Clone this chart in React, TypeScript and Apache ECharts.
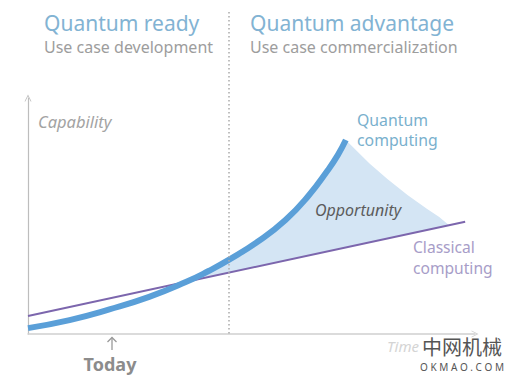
import React, { useEffect, useRef } from "react";
import * as echarts from "echarts";

// Quantum computing capability curve (x: time 0..100, y: capability 0..100)
const quantumX = [0, 9.3, 18.2, 27.1, 35.3, 40.4, 44.9, 51.6, 57.6, 62.7, 67.1, 69.3, 71.1];
const quantumY = [2.5, 5.9, 10.4, 15.7, 22.0, 26.7, 31.4, 39.4, 48.3, 58.5, 69.5, 75.8, 82.2];
// Classical computing (straight line)
const classicalX = [0, 97.8];
const classicalY = [7.6, 47.6];
// Right edge of the opportunity area (from the quantum peak down to the classical line)
const edgeX = [71.1, 73.8, 76.4, 80.4, 84.9, 89.3, 92.0, 94.2];
const edgeY = [82.2, 77.1, 72.2, 65.7, 58.9, 53.0, 49.6, 46.1];
// Where the quantum curve crosses the classical line
const crossingX = 35.3;
const crossingY = 22.0;

const FONT = "'Noto Sans', 'Open Sans', sans-serif";

export default function App() {
  const ref = useRef<HTMLDivElement>(null);
  useEffect(() => {
    if (!ref.current) return;
    const chart = echarts.init(ref.current, null, { renderer: "svg" });

    const quantumData = quantumX.map((x, i) => [x, quantumY[i]]);
    const classicalData = classicalX.map((x, i) => [x, classicalY[i]]);
    const polygon: number[][] = [[crossingX, crossingY]];
    quantumX.forEach((x, i) => {
      if (x > crossingX) polygon.push([x, quantumY[i]]);
    });
    edgeX.forEach((x, i) => {
      if (i > 0) polygon.push([x, edgeY[i]]);
    });

    const arrowPath = "path://M0,10 L5,0 L10,10 L8.8,10 L5,2.6 L1.2,10 Z";

    chart.setOption({
      animation: false,
      backgroundColor: "#ffffff",
      grid: { left: 28, right: 49, top: 98, bottom: 45 },
      xAxis: {
        type: "value",
        min: 0,
        max: 100,
        axisLine: {
          show: true,
          lineStyle: { color: "#cfcfcf", width: 1.5 },
          symbol: ["none", arrowPath],
          symbolSize: [9, 7],
        },
        axisTick: { show: false },
        axisLabel: { show: false },
        splitLine: { show: false },
      },
      yAxis: {
        type: "value",
        min: 0,
        max: 100,
        axisLine: {
          show: true,
          lineStyle: { color: "#bdbdbd", width: 1.2 },
          symbol: ["none", arrowPath],
          symbolSize: [9, 7],
        },
        axisTick: { show: false },
        axisLabel: { show: false },
        splitLine: { show: false },
      },
      series: [
        {
          type: "custom",
          name: "Opportunity",
          data: [0],
          z: 1,
          renderItem: (_params: any, api: any) => ({
            type: "polygon",
            shape: { points: polygon.map((p) => api.coord(p)) },
            style: { fill: "#d4e5f4" },
          }),
        },
        {
          type: "line",
          name: "Classical computing",
          data: classicalData,
          showSymbol: false,
          z: 3,
          lineStyle: { color: "#7c66ad", width: 2 },
        },
        {
          type: "line",
          name: "Quantum computing",
          data: quantumData,
          smooth: 0.5,
          showSymbol: false,
          z: 4,
          lineStyle: { color: "#5a9fd8", width: 6 },
        },
      ],
      graphic: {
        elements: [
          {
            type: "line",
            z: 5,
            shape: { x1: 229, y1: 12, x2: 229, y2: 334 },
            style: { stroke: "#aaaaaa", lineWidth: 1.5, lineDash: [1.5, 2.5] },
          },
          {
            type: "text",
            z: 10,
            x: 44,
            y: 23,
            style: { text: "Quantum ready", font: `21px ${FONT}`, fill: "#82b3d3", textVerticalAlign: "middle" },
          },
          {
            type: "text",
            z: 10,
            x: 44,
            y: 47,
            style: { text: "Use case development", font: `16px ${FONT}`, fill: "#9d9d9d", textVerticalAlign: "middle" },
          },
          {
            type: "text",
            z: 10,
            x: 250,
            y: 23,
            style: { text: "Quantum advantage", font: `21px ${FONT}`, fill: "#82b3d3", textVerticalAlign: "middle" },
          },
          {
            type: "text",
            z: 10,
            x: 250,
            y: 47,
            style: { text: "Use case commercialization", font: `16px ${FONT}`, fill: "#9d9d9d", textVerticalAlign: "middle" },
          },
          {
            type: "text",
            z: 10,
            x: 38,
            y: 121,
            style: { text: "Capability", font: `italic 16.5px ${FONT}`, fill: "#a3a3a3", textVerticalAlign: "middle" },
          },
          {
            type: "text",
            z: 10,
            x: 357,
            y: 120,
            style: { text: "Quantum", font: `15.8px ${FONT}`, fill: "#79b0cd", textVerticalAlign: "middle" },
          },
          {
            type: "text",
            z: 10,
            x: 357,
            y: 140,
            style: { text: "computing", font: `15.8px ${FONT}`, fill: "#79b0cd", textVerticalAlign: "middle" },
          },
          {
            type: "text",
            z: 10,
            x: 315,
            y: 210,
            style: { text: "Opportunity", font: `italic 16px ${FONT}`, fill: "#5c5c5c", textVerticalAlign: "middle" },
          },
          {
            type: "text",
            z: 10,
            x: 413,
            y: 247,
            style: { text: "Classical", font: `15.6px ${FONT}`, fill: "#a79dc8", textVerticalAlign: "middle" },
          },
          {
            type: "text",
            z: 10,
            x: 413,
            y: 268,
            style: { text: "computing", font: `15.6px ${FONT}`, fill: "#a79dc8", textVerticalAlign: "middle" },
          },
          {
            type: "polyline",
            z: 10,
            shape: { points: [[107.5, 342], [112, 337.5], [116.5, 342]] },
            style: { stroke: "#9a9a9a", lineWidth: 1.3, fill: "none" },
          },
          {
            type: "line",
            z: 10,
            shape: { x1: 112, y1: 337.5, x2: 112, y2: 350 },
            style: { stroke: "#9a9a9a", lineWidth: 1.3 },
          },
          {
            type: "text",
            z: 10,
            x: 110,
            y: 364,
            style: { text: "Today", font: `bold 18px ${FONT}`, fill: "#8c8c8c", textAlign: "center", textVerticalAlign: "middle" },
          },
          {
            type: "text",
            z: 8,
            x: 419,
            y: 346,
            style: { text: "Time", font: `italic 15px ${FONT}`, fill: "#d4d4d4", textAlign: "right", textVerticalAlign: "middle" },
          },
          {
            type: "text",
            z: 10,
            x: 462,
            y: 346,
            style: { text: "中网机械", font: `20px 'Noto Sans CJK SC', sans-serif`, fill: "#555555", textAlign: "center", textVerticalAlign: "middle" },
          },
          {
            type: "text",
            z: 10,
            x: 462,
            y: 367,
            style: { text: "O K M A O . C O M", font: `10px ${FONT}`, fill: "#555555", textAlign: "center", textVerticalAlign: "middle" },
          },
        ],
      },
    });
    return () => chart.dispose();
  }, []);

  return <div ref={ref} style={{ width: 524, height: 379, position: "fixed", left: 0, top: 0 }} />;
}
